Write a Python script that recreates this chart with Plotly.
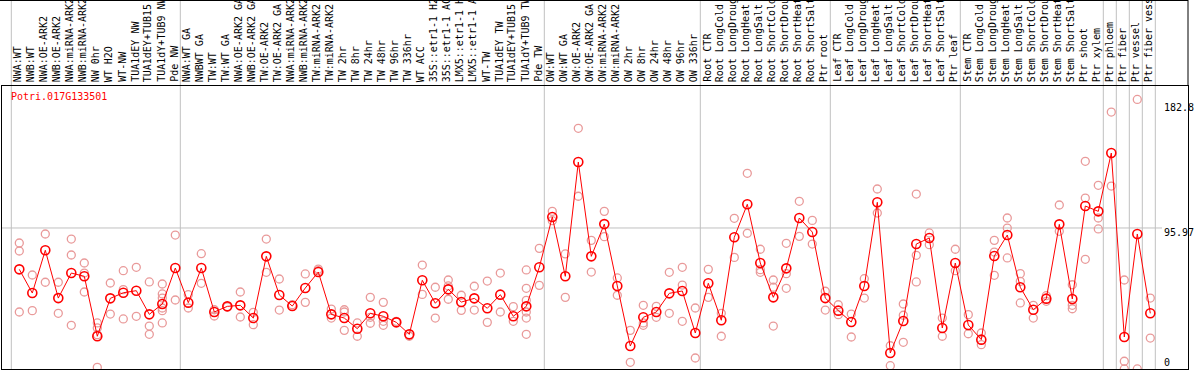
import plotly.graph_objects as go

gene_name = "Potri.017G133501"

categories = [
    "NWA:WT", "NWB:WT", "NWA:OE-ARK2", "NWB:OE-ARK2", "NWA:miRNA-ARK2", "NWB:miRNA-ARK2",
    "NW 0hr", "WT H2O", "WT-NW", "TUA1dEY NW", "TUA1dEY+TUB15", "TUA1dY+TUB9 NW", "Pde NW",
    "NWA:WT GA", "NWBWT GA", "TW:WT", "TW:WT GA", "NWA:OE-ARK2 GA", "NWB:OE-ARK2 GA",
    "TW:OE-ARK2", "TW:OE-ARK2 GA", "NWA:miRNA-ARK2", "NWB:miRNA-ARK2", "TW:miRNA-ARK2",
    "TW:miRNA-ARK2", "TW 2hr", "TW 8hr", "TW 24hr", "TW 48hr", "TW 96hr", "TW 336hr",
    "WT ACC", "35S::etr1-1 H2", "35S::etr1-1 AC", "LMX5::etr1-1 H", "LMX5::etr1-1 A",
    "WT-TW", "TUA1dEY TW", "TUA1dEY+TUB15", "TUA1dY+TUB9 TW", "Pde TW",
    "OW:WT", "OW:WT GA", "OW:OE-ARK2", "OW:OE-ARK2 GA", "OW:miRNA-ARK2", "OW:miRNA-ARK2",
    "OW 2hr", "OW 8hr", "OW 24hr", "OW 48hr", "OW 96hr", "OW 336hr",
    "Root CTR", "Root LongCold", "Root LongDroug", "Root LongHeat", "Root LongSalt",
    "Root ShortCold", "Root ShortDrou", "Root ShortHeat", "Root ShortSalt", "Ptr root",
    "Leaf CTR", "Leaf LongCold", "Leaf LongDroug", "Leaf LongHeat", "Leaf LongSalt",
    "Leaf ShortCold", "Leaf ShortDrou", "Leaf ShortHeat", "Leaf ShortSalt", "Ptr leaf",
    "Stem CTR", "Stem LongCold", "Stem LongDroug", "Stem LongHeat", "Stem LongSalt",
    "Stem ShortCold", "Stem ShortDrou", "Stem ShortHeat", "Stem ShortSalt", "Ptr shoot",
    "Ptr xylem", "Ptr phloem", "Ptr fiber", "Ptr vessel", "Ptr fiber vess",
]

mean_values = [
    68.0, 52.0, 80.9, 48.6, 65.5, 63.3, 22.8, 48.4, 52.2, 53.6, 37.6, 44.6, 68.9,
    45.5, 68.9, 39.2, 43.0, 43.7, 35.1, 76.8, 50.7, 43.2, 55.4, 66.2, 37.6, 35.1,
    27.9, 38.3, 36.3, 32.2, 24.1, 60.6, 45.1, 54.5, 45.9, 48.4, 41.7, 50.9, 36.3,
    43.0, 69.4,
    103.4, 63.3, 140.5, 76.8, 98.6, 56.8, 16.2, 35.6, 39.2, 51.8, 53.4, 25.0,
    58.6, 33.6, 89.7, 112.0, 72.3, 49.1, 68.7, 102.7, 93.2, 48.6,
    40.1, 32.4, 56.8, 113.3, 11.5, 33.1, 85.1, 89.2, 28.4, 72.3,
    30.4, 20.5, 77.0, 91.2, 55.9, 40.7, 48.2, 98.4, 48.0, 110.8, 107.2,
    146.6, 22.3, 91.9, 38.3,
]

replicate_values = [
    [85.8, 80.4, 39.2], [64.2, 40.1], [91.9, 59.3], [59.3, 38.3], [88.5, 77.7, 30.2],
    [72.3, 65.5, 52.7], [31.8, 28.4, 23.9, 1.8], [58.8, 37.8], [67.1, 54.3, 34.5],
    [69.4, 36.3], [59.5, 29.7, 24.1], [58.1, 51.4, 48.6, 41.9, 40.1, 31.8], [91.2, 47.3],
    [50.9, 41.9], [78.6, 58.6], [40.7, 36.5], [42.6], [52.7, 35.8], [39.0, 30.6],
    [88.5, 66.0], [61.5, 40.5], [44.1], [64.9, 45.7], [68.2, 67.1], [41.2, 35.1],
    [40.7, 39.2, 26.8], [31.8, 22.8], [49.1, 35.6, 31.6], [45.7, 32.9, 30.2], [32.9],
    [22.8], [70.9, 51.1], [55.9, 35.1], [60.8, 56.8, 47.8], [50.5, 40.3], [56.6, 40.5],
    [60.1, 32.2], [65.5, 39.2], [42.8, 32.9], [67.6, 55.2, 47.1, 39.2, 35.1, 24.1],
    [82.2, 57.2],
    [107.2, 100.9], [78.4, 49.1], [163.3, 117.4], [87.6, 66.2], [107.2, 90.1],
    [62.2, 50.5], [26.8, 5.2], [43.7, 31.8, 30.2], [43.0, 35.6], [66.0, 38.3],
    [69.4, 57.4, 32.9], [41.9, 8.1],
    [68.0, 49.1], [38.3, 22.8], [102.5, 76.1], [132.9, 92.4], [81.6, 67.8, 66.0],
    [60.8, 55.9, 29.7], [85.6, 65.1, 55.2], [114.0, 90.3], [101.1, 85.1], [53.2, 40.5],
    [44.1, 37.4], [37.8, 22.3], [61.7, 48.6], [122.3, 106.1], [16.4, 2.9],
    [44.6, 37.0, 18.7], [118.9, 77.5, 59.5], [92.6, 84.7], [35.1, 22.8], [81.6, 67.1],
    [37.4, 24.5], [25.0, 17.1], [87.6, 79.7, 64.0], [102.7, 95.9, 75.7],
    [65.1, 59.9, 45.3], [43.7, 35.1], [50.2, 46.4], [111.5, 93.7], [57.6, 43.7, 41.4],
    [141.0, 116.2, 74.8], [124.8, 102.7, 95.3],
    [174.3, 124.3], [60.8, 5.9, 0.7], [182.8, 0.7], [48.6, 21.6],
]

group_starts = [0, 13, 41, 53, 63, 73, 84, 85, 86, 87, 88]
y_tick_values = [182.8, 95.97, 0]
y_tick_labels = ["182.8", "95.97", "0"]

MONO = "DejaVu Sans Mono"
X_RANGE = [-1.331, 89.9]
Y_RANGE = [0.676, 191.9]

idx = list(range(len(categories)))
rep_x, rep_y = [], []
for i, reps in enumerate(replicate_values):
    for v in reps:
        rep_x.append(i)
        rep_y.append(v)

fig = go.Figure()
fig.add_trace(go.Scatter(
    x=rep_x, y=rep_y, mode="markers",
    marker=dict(symbol="circle-open", size=8, color="#E99A9A", line=dict(width=1.3, color="#E99A9A")),
    hoverinfo="skip", showlegend=False,
))
fig.add_trace(go.Scatter(
    x=idx, y=mean_values, mode="lines+markers",
    line=dict(color="#FF0000", width=1),
    marker=dict(symbol="circle-open", size=9, color="#FF0000", line=dict(width=1.6, color="#FF0000")),
    showlegend=False,
))

shapes = []
top_paper = 1 + 86 / 283
for g in group_starts:
    shapes.append(dict(type="line", xref="x", yref="paper", x0=g - 0.615, x1=g - 0.615,
                       y0=0, y1=top_paper, line=dict(color="#C0C0C0", width=1), layer="below"))
shapes.append(dict(type="line", xref="paper", yref="y", x0=0, x1=(1162 - 2) / 1186,
                   y0=y_tick_values[1], y1=y_tick_values[1], line=dict(color="#C0C0C0", width=1), layer="below"))
shapes.append(dict(type="line", xref="paper", yref="paper", x0=1, x1=1, y0=1, y1=top_paper,
                   line=dict(color="black", width=1)))
shapes.append(dict(type="line", xref="paper", yref="paper", x0=-2 / 1186, x1=1, y0=top_paper - 0.5 / 283,
                   y1=top_paper - 0.5 / 283, line=dict(color="black", width=1)))

annotations = []
for i, lab in enumerate(categories):
    annotations.append(dict(x=i - 0.08, y=1 + 3 / 283, xref="x", yref="paper", text=lab,
                            showarrow=False, textangle=-90, xanchor="center", yanchor="bottom",
                            borderpad=0, font=dict(family=MONO, size=10, color="black")))
label_y = [177.7, 93.2, 5.4]
for v, t in zip(label_y, y_tick_labels):
    annotations.append(dict(x=(1163 - 2) / 1186, y=v, xref="paper", yref="y", text=t, showarrow=False,
                            xanchor="left", yanchor="middle", borderpad=0,
                            font=dict(family=MONO, size=10, color="black")))
annotations.append(dict(x=-0.7, y=184.5, xref="x", yref="y", text=gene_name, showarrow=False,
                        xanchor="left", yanchor="middle", borderpad=0,
                        font=dict(family=MONO, size=10, color="#FF0000")))

fig.update_layout(
    width=1194, height=370,
    margin=dict(l=2, r=6, t=86, b=1, pad=0),
    paper_bgcolor="white", plot_bgcolor="white",
    xaxis=dict(range=X_RANGE, showgrid=False, zeroline=False, showticklabels=False, ticks="",
               showline=True, mirror=True, linecolor="black", linewidth=1, fixedrange=True),
    yaxis=dict(range=Y_RANGE, showgrid=False, zeroline=False, showticklabels=False, ticks="",
               showline=True, mirror=True, linecolor="black", linewidth=1, fixedrange=True),
    shapes=shapes, annotations=annotations,
    showlegend=False,
)

fig.write_html("out.html", config={"displayModeBar": False},
               post_script="document.body.style.margin='0';document.body.style.overflow='hidden';")
